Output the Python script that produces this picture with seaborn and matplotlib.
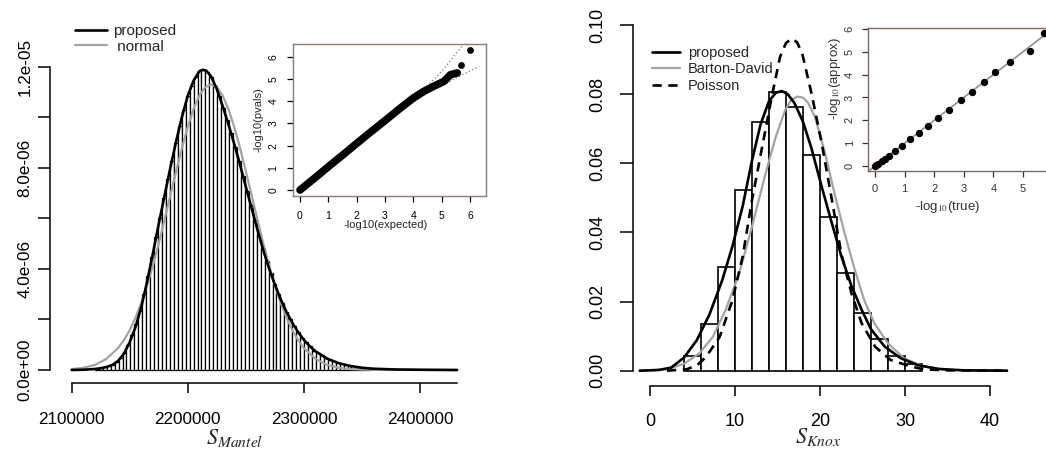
import numpy as np
import pandas as pd
import matplotlib
matplotlib.use('Agg')
import matplotlib.pyplot as plt
from matplotlib.lines import Line2D
import seaborn as sns

sns.set_theme(style='ticks')
plt.rcParams['font.family'] = ['Liberation Sans', 'DejaVu Sans']
plt.rcParams['mathtext.fontset'] = 'stix'

# ---------------- left panel: S_Mantel ----------------
mantel_bin_start = 2120000
mantel_bin_width = 3400
# bar heights (density, x1e-6)
mantel_hist = [0.05, 0.07, 0.10, 0.15, 0.21, 0.31, 0.47, 0.69, 0.99, 1.37,
               1.81, 2.35, 3.00, 3.70, 4.46, 5.25, 6.03, 6.79, 7.54, 8.27,
               8.99, 9.65, 10.27, 10.83, 11.25, 11.58, 11.82, 11.88, 11.79, 11.59,
               11.25, 10.85, 10.38, 9.88, 9.37, 8.84, 8.27, 7.69, 7.10, 6.52,
               5.95, 5.38, 4.83, 4.33, 3.85, 3.42, 3.02, 2.65, 2.31, 2.01,
               1.75, 1.49, 1.28, 1.09, 0.93, 0.77, 0.68, 0.58, 0.49, 0.41,
               0.35, 0.29, 0.24, 0.20, 0.17, 0.14, 0.12, 0.09, 0.08, 0.06]

# proposed density curve (x1e-6)
prop_x = [2100000, 2110000, 2120000, 2125000, 2130000, 2135000, 2140000, 2145000,
          2150000, 2155000, 2160000, 2165000, 2170000, 2175000, 2180000, 2185000,
          2190000, 2195000, 2200000, 2205000, 2210000, 2213000, 2216000, 2220000,
          2225000, 2230000, 2235000, 2240000, 2245000, 2250000, 2255000, 2260000,
          2265000, 2270000, 2275000, 2280000, 2285000, 2290000, 2295000, 2300000,
          2305000, 2310000, 2320000, 2330000, 2340000, 2350000, 2360000, 2380000,
          2400000, 2432000]
prop_y = [0.00, 0.01, 0.04, 0.07, 0.12, 0.20, 0.36, 0.65,
          1.10, 1.70, 2.50, 3.50, 4.62, 5.78, 6.90, 8.00,
          9.05, 10.02, 10.85, 11.45, 11.82, 11.88, 11.84, 11.62,
          11.12, 10.45, 9.72, 8.95, 8.12, 7.25, 6.40, 5.55,
          4.75, 4.02, 3.38, 2.80, 2.30, 1.87, 1.50, 1.19,
          0.94, 0.74, 0.45, 0.27, 0.16, 0.09, 0.05, 0.02,
          0.01, 0.00]

# normal approximation curve (x1e-6)
norm_x = [2100000, 2110000, 2120000, 2130000, 2140000, 2145000, 2150000, 2155000,
          2160000, 2165000, 2170000, 2175000, 2180000, 2185000, 2190000, 2195000,
          2200000, 2205000, 2210000, 2215000, 2220000, 2225000, 2230000, 2235000,
          2240000, 2245000, 2250000, 2255000, 2260000, 2265000, 2270000, 2275000,
          2280000, 2285000, 2290000, 2295000, 2300000, 2310000, 2320000, 2330000,
          2340000, 2360000, 2432000]
norm_y = [0.035, 0.088, 0.20, 0.44, 0.87, 1.18, 1.58, 2.07,
          2.66, 3.36, 4.14, 5.01, 5.95, 6.91, 7.87, 8.79,
          9.62, 10.33, 10.86, 11.19, 11.30, 11.19, 10.86, 10.33,
          9.62, 8.79, 7.87, 6.91, 5.95, 5.01, 4.14, 3.36,
          2.66, 2.07, 1.58, 1.18, 0.87, 0.44, 0.20, 0.088,
          0.035, 0.004, 0.0]

# QQ inset
qq_expected = [0, 0.5, 1.0, 1.5, 2.0, 2.5, 3.0, 3.5, 4.0, 4.37, 4.72, 5.08, 5.31, 5.55]
qq_observed = [0, 0.52, 1.05, 1.57, 2.10, 2.62, 3.13, 3.65, 4.15, 4.45, 4.68, 4.90, 5.20, 5.28]
qq_tail_expected = [5.67, 6.0]
qq_tail_observed = [5.66, 6.33]
band_up_x = [3.6, 4.31, 5.0, 5.76]
band_up_y = [3.7, 4.45, 5.35, 6.56]
band_lo_x = [3.6, 4.49, 5.4, 6.32]
band_lo_y = [3.6, 4.37, 4.98, 5.58]

# ---------------- right panel: S_Knox ----------------
knox_bin_start = 4
knox_bin_width = 2
knox_hist = [0.0042, 0.0135, 0.0301, 0.0523, 0.0719, 0.0807, 0.0764,
             0.0624, 0.0444, 0.0284, 0.0168, 0.0091, 0.0042, 0.0018]

knox_x = [-1.2, 1, 2.5, 4, 5.5, 7, 8.5, 9.7, 10.9, 12, 13, 14, 14.8, 15.5, 16.2,
          17, 18, 19, 20.2, 21.4, 22.5, 23.7, 24.9, 26, 27.6, 29.5, 31.5, 34, 37, 42]
knox_prop = [0, 0.0002, 0.0009, 0.0038, 0.0088, 0.0163, 0.0262, 0.0360, 0.0476,
             0.0608, 0.0712, 0.0780, 0.0804, 0.0809, 0.0800, 0.0774, 0.0720, 0.0643,
             0.0532, 0.0426, 0.0332, 0.0245, 0.0176, 0.0120, 0.0070, 0.0036, 0.0016,
             0.0005, 0.0001, 0]

bd_x = [-1.2, 2, 4, 5.8, 7.4, 8.9, 10.5, 12.0, 13.6, 14.8, 15.9, 16.6, 17.3, 18.0,
        18.6, 19.4, 20.6, 21.7, 22.9, 24.1, 25.2, 26.4, 28.0, 29.9, 32.2, 35, 42]
bd_y = [0, 0.0004, 0.0020, 0.0050, 0.0098, 0.0176, 0.0282, 0.0417, 0.0571, 0.0677,
        0.0754, 0.0783, 0.0793, 0.0790, 0.0775, 0.0735, 0.0629, 0.0513, 0.0397,
        0.0291, 0.0204, 0.0137, 0.0079, 0.0036, 0.0012, 0.0002, 0]

pois_x = [2, 4.3, 5.5, 6.6, 8.2, 9.7, 10.9, 12.0, 13.2, 14.4, 15.3, 16.0, 16.7,
          17.3, 17.9, 19.0, 20.2, 21.4, 22.5, 23.7, 24.9, 26.5, 28.3, 30.7, 32.2, 35, 42]
pois_y = [0, 0.0004, 0.0015, 0.0040, 0.0098, 0.0204, 0.0330, 0.0494, 0.0648,
          0.0802, 0.0908, 0.0948, 0.0961, 0.0950, 0.0918, 0.0802, 0.0658, 0.0494,
          0.0339, 0.0224, 0.0137, 0.0069, 0.0031, 0.0012, 0.0004, 0.0001, 0]

true_p = [0, 0.04, 0.11, 0.22, 0.34, 0.47, 0.67, 0.9, 1.18, 1.48, 1.8, 2.13, 2.49,
          2.89, 3.28, 3.67, 4.04, 4.57, 5.25, 5.7]
approx_p = [0, 0.03, 0.10, 0.22, 0.32, 0.44, 0.64, 0.88, 1.16, 1.46, 1.77, 2.11,
            2.47, 2.87, 3.25, 3.66, 4.11, 4.54, 5.05, 5.81]

W, H = 1046, 449
fig = plt.figure(figsize=(W / 100, H / 100), dpi=100)
fig.patch.set_facecolor('white')


def px_axes(x0, y0, x1, y1):
    # axes rectangle from pixel box (top-left origin)
    return fig.add_axes([x0 / W, 1 - y1 / H, (x1 - x0) / W, (y1 - y0) / H])


def r_style(ax, fs):
    ax.set_facecolor('white')
    ax.spines['top'].set_visible(False)
    ax.spines['right'].set_visible(False)
    for s in ('left', 'bottom'):
        ax.spines[s].set_color('black')
        ax.spines[s].set_linewidth(1.1)
    ax.tick_params(direction='out', colors='black', labelsize=fs, width=1.1)
    ax.grid(False)


def hist_from_heights(ax, start, width, heights, lw):
    n = len(heights)
    df = pd.DataFrame({'x': start + width * (np.arange(n) + 0.5), 'h': heights})
    sns.histplot(data=df, x='x', weights='h', binwidth=width,
                 binrange=(start, start + width * n), ax=ax, stat='count',
                 color='white', edgecolor='black', linewidth=lw, alpha=1)


# ---- left main ----
ax1 = px_axes(50, 60, 460, 383)
hist_from_heights(ax1, mantel_bin_start, mantel_bin_width,
                  [h * 1e-6 for h in mantel_hist], 0.9)
sns.lineplot(x=norm_x, y=[v * 1e-6 for v in norm_y], ax=ax1, color='#a3a3a3', lw=1.6,
             sort=False, estimator=None)
sns.lineplot(x=prop_x, y=[v * 1e-6 for v in prop_y], ax=ax1, color='black', lw=1.9,
             sort=False, estimator=None)
ax1.set_xlim(2081335, 2434470)
ax1.set_ylim(-0.5143e-6, 12.265e-6)
r_style(ax1, 12.3)
ax1.spines['left'].set_bounds(0, 1.2e-5)
ax1.spines['bottom'].set_bounds(2100000, 2431600)
yt = [0, 2e-6, 4e-6, 6e-6, 8e-6, 1e-5, 1.2e-5]
ax1.set_yticks(yt)
ax1.set_yticklabels(['0.0e+00', '', '4.0e-06', '', '8.0e-06', '', '1.2e-05'],
                    rotation=90, va='center')
ax1.tick_params(axis='y', length=8.5, pad=4)
ax1.set_xticks([2100000, 2200000, 2300000, 2400000])
ax1.set_xticklabels(['2100000', '2200000', '2300000', '2400000'])
ax1.tick_params(axis='x', length=7, pad=14)
ax1.set_ylabel('')
ax1.set_xlabel('$S_{Mantel}$', fontsize=16)
ax1.xaxis.set_label_coords((235 - 50) / 410, (383 - 438) / 323)
ax1.xaxis.label.set_va('center')
h1 = [Line2D([], [], color='black', lw=1.9), Line2D([], [], color='#a3a3a3', lw=1.6)]
ax1.legend(h1, ['proposed', ' normal'], loc='upper left', frameon=False,
           bbox_to_anchor=(75 / W, 1 - 24 / H), bbox_transform=fig.transFigure,
           fontsize=11, handlelength=2.1, handletextpad=0.4, labelspacing=0.12,
           borderpad=0, borderaxespad=0)

# ---- left inset (QQ) ----
axq = px_axes(293, 44, 486, 196)
sns.lineplot(x=band_up_x, y=band_up_y, ax=axq, color='#8a8a8a', lw=1.0, ls=':',
             sort=False, estimator=None)
sns.lineplot(x=band_lo_x, y=band_lo_y, ax=axq, color='#8a8a8a', lw=1.0, ls=':',
             sort=False, estimator=None)
sns.lineplot(x=qq_expected, y=qq_observed, ax=axq, color='black', lw=5.5,
             sort=False, estimator=None, solid_capstyle='round')
sns.scatterplot(x=qq_tail_expected, y=qq_tail_observed, ax=axq, color='black',
                s=24, edgecolor='black', linewidth=0)
axq.set_xlim(-0.247, 6.565)
axq.set_ylim(-0.27, 6.585)
axq.set_facecolor('white')
for s in axq.spines.values():
    s.set_color('#8c7b70')
    s.set_linewidth(1.0)
axq.grid(False)
axq.set_xticks(range(7))
axq.set_yticks(range(7))
axq.tick_params(direction='out', length=4.5, width=0.9, labelsize=7.5, colors='black', pad=6)
axq.set_yticklabels([str(i) for i in range(7)], rotation=90, va='center')
axq.set_xlabel('-log10(expected)', fontsize=8)
axq.set_ylabel('-log10(pvals)', fontsize=8)
axq.xaxis.set_label_coords((386 - 293) / 193, (196 - 225) / 152)
axq.xaxis.label.set_va('center')
axq.yaxis.set_label_coords((258 - 293) / 193, 0.5)
axq.yaxis.label.set_va('center')

# ---- right main ----
ax2 = px_axes(633, 20, 1010, 386)
hist_from_heights(ax2, knox_bin_start, knox_bin_width, knox_hist, 1.2)
sns.lineplot(x=bd_x, y=bd_y, ax=ax2, color='#a3a3a3', lw=1.6, sort=False, estimator=None)
sns.lineplot(x=pois_x, y=pois_y, ax=ax2, color='black', lw=1.9, ls=(0, (3.5, 2.5)),
             sort=False, estimator=None)
sns.lineplot(x=knox_x, y=knox_prop, ax=ax2, color='black', lw=1.9, sort=False,
             estimator=None)
ax2.set_xlim(-2.0, 42.35)
ax2.set_ylim(-0.004426, 0.10145)
r_style(ax2, 13)
ax2.spines['left'].set_bounds(0, 0.1)
ax2.spines['bottom'].set_bounds(0, 40)
ax2.set_yticks([0, 0.02, 0.04, 0.06, 0.08, 0.10])
ax2.set_yticklabels(['0.00', '0.02', '0.04', '0.06', '0.08', '0.10'],
                    rotation=90, va='center')
ax2.tick_params(axis='y', length=9.5, pad=10)
ax2.set_xticks([0, 10, 20, 30, 40])
ax2.tick_params(axis='x', length=7.5, pad=12)
ax2.set_ylabel('')
ax2.set_xlabel('$S_{Knox}$', fontsize=16)
ax2.xaxis.set_label_coords((818 - 633) / 377, (386 - 437) / 366)
ax2.xaxis.label.set_va('center')
h2 = [Line2D([], [], color='black', lw=1.9), Line2D([], [], color='#a3a3a3', lw=1.6),
      Line2D([], [], color='black', lw=1.9, ls=(0, (3.5, 2.5)))]
ax2.legend(h2, ['proposed', 'Barton-David', 'Poisson'], loc='upper left', frameon=False,
           bbox_to_anchor=(652 / W, 1 - 46 / H), bbox_transform=fig.transFigure,
           fontsize=10.5, handlelength=1.9, handletextpad=0.55, labelspacing=0.16,
           borderpad=0, borderaxespad=0)

# ---- right inset ----
axr = px_axes(868, 28, 1052, 171)
axr.axline((0, 0), slope=1, color='#909090', lw=1.2)
sns.scatterplot(x=true_p, y=approx_p, ax=axr, color='black', s=28, linewidth=0, zorder=3)
axr.set_xlim(-0.24, 5.98)
axr.set_ylim(-0.22, 6.04)
axr.set_facecolor('white')
for s in axr.spines.values():
    s.set_color('#7a6a60')
    s.set_linewidth(1.0)
axr.grid(False)
axr.set_xticks(range(6))
axr.set_yticks(range(7))
axr.tick_params(direction='out', length=4.5, width=0.9, labelsize=8, colors='#333333', pad=5)
axr.set_yticklabels([str(i) for i in range(7)], rotation=90, va='center')
axr.set_xlabel('-log$_{10}$(true)', fontsize=9.5, color='#333333')
axr.set_ylabel('-log$_{10}$(approx)', fontsize=9.5, color='#333333')
axr.xaxis.set_label_coords((948 - 868) / 184, (171 - 207) / 143)
axr.xaxis.label.set_va('center')
axr.yaxis.set_label_coords((835 - 868) / 184, (171 - 79) / 143)
axr.yaxis.label.set_va('center')

fig.savefig('out.png', dpi=100, facecolor='white')
